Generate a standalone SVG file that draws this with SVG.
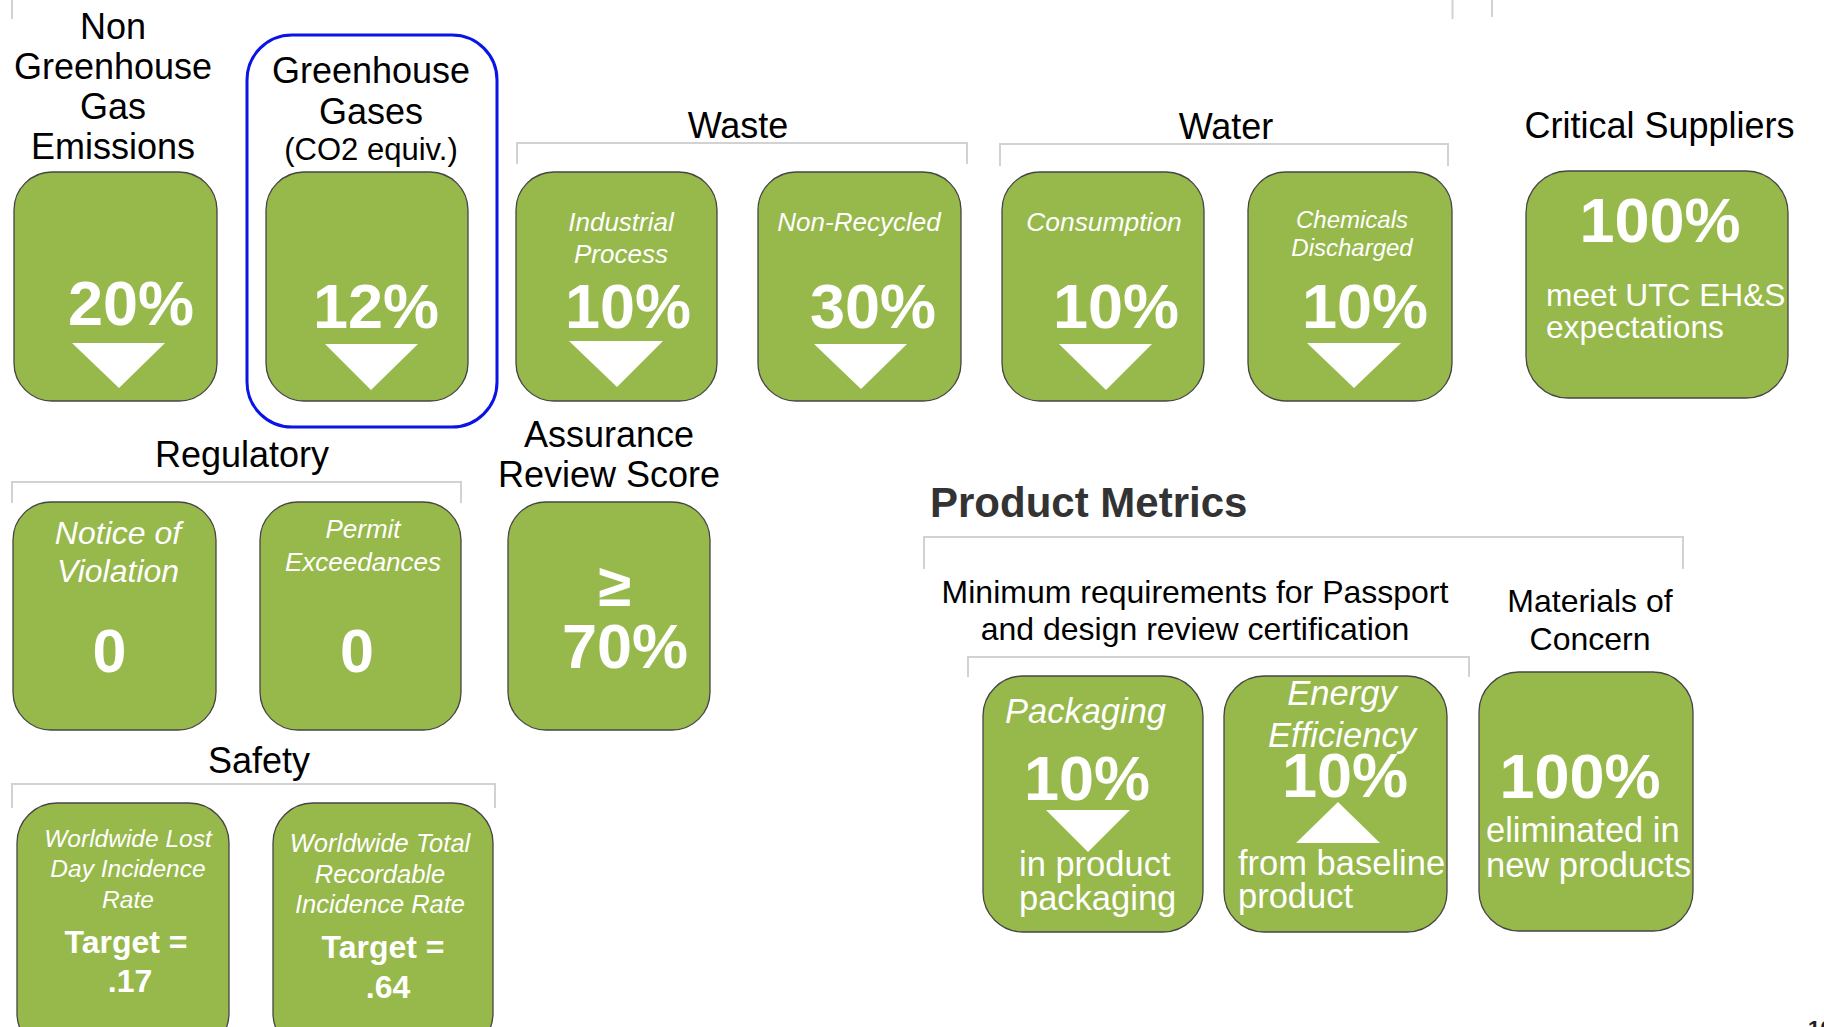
<svg xmlns="http://www.w3.org/2000/svg" width="1824" height="1027" viewBox="0 0 1824 1027">
<style>
text{font-family:"Liberation Sans",Arial,Helvetica,sans-serif}
.box{fill:#97b84a;stroke:#454545;stroke-width:1.3}
.hd{font-size:36px;fill:#000;text-anchor:middle}
.sub{font-size:32px;fill:#000;text-anchor:middle}
.it{font-style:italic;fill:#fff;text-anchor:middle}
.big{font-weight:bold;font-size:63px;fill:#fff;text-anchor:middle}
.desc{fill:#fff;font-size:34.5px}
.tri{fill:#fff}
.br{fill:none;stroke:#d2d2d2;stroke-width:2}
</style>
<rect width="1824" height="1027" fill="#fff"/>
<g id="brackets">
<path class="br" d="M12,0 V19"/>
<path class="br" d="M1452.5,0 V19"/>
<path class="br" d="M1492,0 V17"/>
<path class="br" d="M517,164 V143 H967 V164"/>
<path class="br" d="M1000,166 V144 H1448 V166"/>
<path class="br" d="M12,503 V482 H461 V503"/>
<path class="br" d="M12,808 V784 H495 V808"/>
<path class="br" d="M924,569 V537 H1683 V569"/>
<path class="br" d="M968,677 V657 H1469 V677"/>
</g>
<g id="non-ghg">
<text class="hd" x="113" y="39">Non</text>
<text class="hd" x="113" y="79">Greenhouse</text>
<text class="hd" x="113" y="119">Gas</text>
<text class="hd" x="113" y="159">Emissions</text>
<rect class="box" x="14" y="172" width="203" height="229" rx="38"/>
<text class="big" x="131" y="325">20%</text>
<polygon class="tri" points="72,343 165,343 119,388"/>
</g>
<g id="ghg">
<rect x="247" y="35" width="250" height="392" rx="45" fill="none" stroke="#0a14e6" stroke-width="3"/>
<text class="hd" x="371" y="83">Greenhouse</text>
<text class="hd" x="371" y="124">Gases</text>
<text class="hd" x="371" y="160" style="font-size:31px">(CO2 equiv.)</text>
<rect class="box" x="266" y="172" width="202" height="229" rx="38"/>
<text class="big" x="376" y="328">12%</text>
<polygon class="tri" points="325,344 418,344 371,390"/>
</g>
<g id="waste">
<text class="hd" x="738" y="138">Waste</text>
</g>
<g id="waste-industrial">
<rect class="box" x="516" y="172" width="201" height="229" rx="38"/>
<text class="it" x="621" y="231" font-size="26">Industrial</text>
<text class="it" x="621" y="263" font-size="26">Process</text>
<text class="big" x="628" y="328">10%</text>
<polygon class="tri" points="569,341 663,341 617,387"/>
</g>
<g id="waste-nonrecycled">
<rect class="box" x="758" y="172" width="203" height="229" rx="38"/>
<text class="it" x="859" y="231" font-size="26">Non-Recycled</text>
<text class="big" x="873" y="328">30%</text>
<polygon class="tri" points="814,344 907,344 861,389"/>
</g>
<g id="water">
<text class="hd" x="1226" y="139">Water</text>
</g>
<g id="water-consumption">
<rect class="box" x="1002" y="172" width="202" height="229" rx="38"/>
<text class="it" x="1104" y="231" font-size="26.4">Consumption</text>
<text class="big" x="1116" y="328">10%</text>
<polygon class="tri" points="1059,344 1152,344 1106,390"/>
</g>
<g id="water-chemicals">
<rect class="box" x="1248" y="172" width="204" height="229" rx="38"/>
<text class="it" x="1352" y="228" font-size="24">Chemicals</text>
<text class="it" x="1352" y="256" font-size="24">Discharged</text>
<text class="big" x="1365" y="328">10%</text>
<polygon class="tri" points="1307,343 1401,343 1354,388"/>
</g>
<g id="critical-suppliers">
<text class="hd" x="1659.5" y="138">Critical Suppliers</text>
<rect class="box" x="1526" y="171" width="262" height="227" rx="42"/>
<text class="big" x="1660" y="242">100%</text>
<text class="desc" x="1546" y="306" style="font-size:31.7px">meet UTC EH&amp;S</text>
<text class="desc" x="1546" y="338" style="font-size:31.7px">expectations</text>
</g>
<g id="regulatory">
<text class="hd" x="242" y="467">Regulatory</text>
</g>
<g id="reg-notice">
<rect class="box" x="13" y="502" width="203" height="228" rx="38"/>
<text class="it" x="118" y="544" font-size="32">Notice of</text>
<text class="it" x="118" y="582" font-size="32">Violation</text>
<text class="big" x="109.5" y="672" style="font-size:61px">0</text>
</g>
<g id="reg-permit">
<rect class="box" x="260" y="502" width="201" height="228" rx="38"/>
<text class="it" x="363" y="538" font-size="26">Permit</text>
<text class="it" x="363" y="571" font-size="26">Exceedances</text>
<text class="big" x="357" y="672" style="font-size:61px">0</text>
</g>
<g id="assurance">
<text class="hd" x="609" y="447">Assurance</text>
<text class="hd" x="609" y="487">Review Score</text>
<rect class="box" x="508" y="502" width="202" height="228" rx="38"/>
<text class="big" x="615" y="606" style="font-size:60px">≥</text>
<text class="big" x="625" y="668">70%</text>
</g>
<g id="safety">
<text class="hd" x="259" y="773">Safety</text>
</g>
<g id="safety-lost-day">
<rect class="box" x="17" y="803" width="212" height="250" rx="40"/>
<text class="it" x="128" y="847" font-size="24.5">Worldwide Lost</text>
<text class="it" x="128" y="877" font-size="24.5">Day Incidence</text>
<text class="it" x="128" y="908" font-size="24.5">Rate</text>
<text class="big" x="126" y="953" style="font-size:32px">Target =</text>
<text class="big" x="130" y="992" style="font-size:32px">.17</text>
</g>
<g id="safety-total">
<rect class="box" x="273" y="803" width="220" height="250" rx="40"/>
<text class="it" x="380" y="852" font-size="25.5">Worldwide Total</text>
<text class="it" x="380" y="883" font-size="25.5">Recordable</text>
<text class="it" x="380" y="913" font-size="25.5">Incidence Rate</text>
<text class="big" x="383" y="958" style="font-size:32px">Target =</text>
<text class="big" x="388" y="998" style="font-size:32px">.64</text>
</g>
<g id="product-metrics">
<text x="930" y="517" font-size="42" font-weight="bold" fill="#333">Product Metrics</text>
<text class="sub" x="1195" y="603">Minimum requirements for Passport</text>
<text class="sub" x="1195" y="640">and design review certification</text>
</g>
<g id="packaging">
<rect class="box" x="983" y="676" width="220" height="256" rx="40"/>
<text class="it" x="1085.5" y="723" font-size="34.5">Packaging</text>
<text class="big" x="1087" y="800">10%</text>
<polygon class="tri" points="1046,810 1130,810 1088,852"/>
<text class="desc" x="1019" y="876">in product</text>
<text class="desc" x="1019" y="910">packaging</text>
</g>
<g id="energy-efficiency">
<rect class="box" x="1224" y="676" width="223" height="256" rx="40"/>
<text class="it" x="1342" y="705" font-size="34.6">Energy</text>
<text class="it" x="1342" y="747" font-size="34.6">Efficiency</text>
<text class="big" x="1345" y="797">10%</text>
<polygon class="tri" points="1296,843 1380,843 1338,802"/>
<text class="desc" x="1238" y="875">from baseline</text>
<text class="desc" x="1238" y="908">product</text>
</g>
<g id="materials-of-concern">
<text class="sub" x="1590" y="612">Materials of</text>
<text class="sub" x="1590" y="650">Concern</text>
<rect class="box" x="1479" y="672" width="214" height="259" rx="40"/>
<text class="big" x="1580" y="798">100%</text>
<text class="desc" x="1486" y="842">eliminated in</text>
<text class="desc" x="1486" y="877">new products</text>
</g>
<g id="page-number">
<text x="1808" y="1036" font-size="22" font-weight="bold" fill="#222">10</text>
</g>
</svg>
